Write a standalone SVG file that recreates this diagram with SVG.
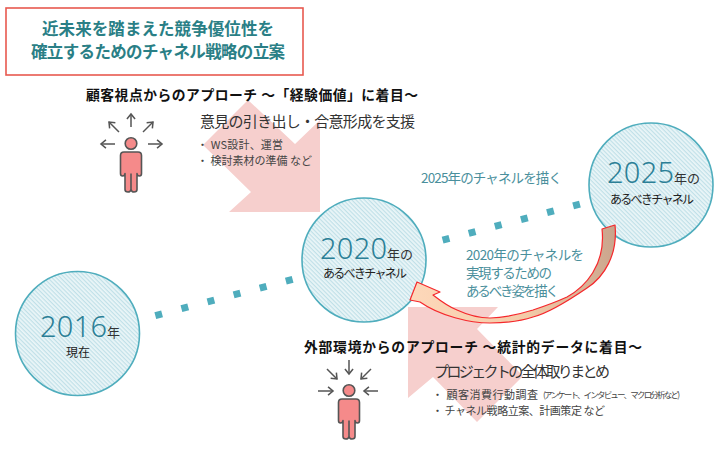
<svg xmlns="http://www.w3.org/2000/svg" xmlns:xlink="http://www.w3.org/1999/xlink" width="720" height="450" viewBox="0 0 720 450">
<style>
text{font-family:"Noto Sans CJK JP","Noto Sans",sans-serif}
.c{stroke:#4fadbd;stroke-width:1.6;fill:url(#hatch)}
.num{font-family:"Noto Sans","Noto Sans CJK JP",sans-serif;font-size:29px;fill:#2b7f96;font-weight:300}
.k{fill:#333;font-size:13px}
.kb{fill:#222;font-size:12px}
.h{fill:#111;font-size:13.8px;font-weight:700}
.s{fill:#333;font-size:15px}
.b{fill:#444;font-size:11px}
.t{fill:#4a8f9c;font-size:13.5px}
.tt{fill:#2a7f86;font-size:16.5px;font-weight:700}
.ar{fill:none;stroke:#555;stroke-width:1.5;marker-end:url(#ah)}
.big{fill:#f6cfcd}
</style>
<defs>
<pattern id="hatch" width="3" height="3" patternUnits="userSpaceOnUse" patternTransform="rotate(45)">
<rect width="3" height="3" fill="#ebf6f8"/><rect width="3" height="1.2" fill="#c0e0e8"/>
</pattern>
<marker id="ah" viewBox="0 0 10 10" refX="8.5" refY="5" markerWidth="9" markerHeight="9" markerUnits="userSpaceOnUse" orient="auto" overflow="visible">
<path d="M3 0.5L8.5 5L3 9.5" fill="none" stroke="#555" stroke-width="1.7"/>
</marker>
<linearGradient id="cg" gradientUnits="userSpaceOnUse" x1="410" y1="290" x2="616" y2="240">
<stop offset="0" stop-color="#fdd8ba"/><stop offset="0.5" stop-color="#f3cba8"/><stop offset="1" stop-color="#c9a48c"/>
</linearGradient>
<g id="man">
<circle cx="0" cy="0" r="5.8" fill="#f58a8a" stroke="#555" stroke-width="1.6"/>
<path d="M-7 8.5H7Q10.5 8.5 10.5 12V30Q10.5 32.5 8.5 32.5Q6 32.5 6 30V46Q6 48.5 3 48.5Q0.5 48.5 0 46Q-0.5 48.5 -3 48.5Q-6 48.5 -6 46V30Q-6 32.5 -8.5 32.5Q-10.5 32.5 -10.5 30V12Q-10.5 8.5 -7 8.5Z M0 30V46" fill="#f58a8a" stroke="#555" stroke-width="1.6" stroke-linejoin="round"/>
</g>
</defs>
<rect width="720" height="450" fill="#fff"/>
<g id="big-arrows">
<polygon class="big" points="248,100 295,144 320,120 320,212 229,212 251,192 203,145"/>
<polygon class="big" points="408,307 498,307 477,329 523,376 477,422 433,377 408,398"/>
</g>
<g id="connectors">
<line x1="155.3" y1="315.6" x2="292.7" y2="279.4" stroke="#4fadbd" stroke-width="7" stroke-dasharray="7 20"/>
<line x1="442.6" y1="240.2" x2="580" y2="204" stroke="#4fadbd" stroke-width="7" stroke-dasharray="7 20"/>
</g>
<g id="title">
<rect x="6" y="8" width="297" height="67" fill="#fff" stroke="#e8594f" stroke-width="1.6"/>
<text class="tt" x="42" y="35" textLength="232">近未来を踏まえた競争優位性を</text>
<text class="tt" x="31" y="58" textLength="254">確立するためのチャネル戦略の立案</text>
</g>
<g id="node-2016">
<circle class="c" cx="77.5" cy="333.5" r="62"/>
<text class="num" x="40" y="337" textLength="67">2016</text>
<text class="k" x="107" y="337">年</text>
<text class="kb" x="66" y="357">現在</text>
</g>
<g id="node-2020">
<circle class="c" cx="364" cy="260" r="62"/>
<text class="num" x="320" y="259" textLength="67">2020</text>
<text class="k" x="387" y="259">年の</text>
<text class="kb" x="323" y="278" textLength="84">あるべきチャネル</text>
</g>
<g id="node-2025">
<circle class="c" cx="651" cy="185" r="62"/>
<text class="num" x="607" y="183" textLength="67">2025</text>
<text class="k" x="674" y="183">年の</text>
<text class="kb" x="610" y="204" textLength="84">あるべきチャネル</text>
</g>
<g id="curved-arrow">
<path d="M615 225C618 255 604 277 587 288C565 303 545 314 533 317C518 322 505 323 490 323C470 323 440 316 420 302L410 300L417 282L440 292L433 295C442 302 449 307 457 310C470 316 480 318 490 318C505 318 520 314 533 310C545 306 556 302 567 297C585 287 606 265 602 229Z" fill="url(#cg)" stroke="#f5282c" stroke-width="1.2" stroke-linejoin="round"/>
</g>
<g id="label-2025"><text class="t" x="421" y="183" textLength="141">2025年のチャネルを描く</text></g>
<g id="label-2020">
<text class="t" x="466" y="260" textLength="118">2020年のチャネルを</text>
<text class="t" x="466" y="278" textLength="86">実現するための</text>
<text class="t" x="466" y="296" textLength="93">あるべき姿を描く</text>
</g>
<g id="approach-customer">
<text class="h" x="86" y="100" textLength="332">顧客視点からのアプローチ ～「経験価値」に着目～</text>
<use xlink:href="#man" href="#man" x="131" y="143.5"/>
<line class="ar" x1="131" y1="127" x2="131" y2="114"/>
<line class="ar" x1="119" y1="132" x2="109" y2="122"/>
<line class="ar" x1="143" y1="132" x2="153" y2="122"/>
<line class="ar" x1="115" y1="144" x2="101" y2="144"/>
<line class="ar" x1="148" y1="144" x2="162" y2="144"/>
<text class="s" x="200" y="127" textLength="215">意見の引き出し・合意形成を支援</text>
<text class="b" x="197" y="149" textLength="86">・ WS設計、運営</text>
<text class="b" x="197" y="165" textLength="115">・ 検討素材の準備 など</text>
</g>
<g id="approach-external">
<text class="h" x="304" y="352" textLength="338">外部環境からのアプローチ ～統計的データに着目～</text>
<use xlink:href="#man" href="#man" x="349" y="390.5"/>
<line class="ar" x1="349" y1="360" x2="349" y2="374"/>
<line class="ar" x1="327" y1="369" x2="337" y2="379"/>
<line class="ar" x1="371" y1="369" x2="361" y2="379"/>
<line class="ar" x1="318" y1="391" x2="333" y2="391"/>
<line class="ar" x1="378" y1="391" x2="364" y2="391"/>
<text class="s" x="434" y="377" textLength="176">プロジェクトの全体取りまとめ</text>
<text class="b" x="432" y="399" textLength="106">・ 顧客消費行動調査</text>
<text x="543" y="398" font-size="8.5" fill="#444" textLength="137">(アンケート、インタビュー、マクロ分析 など)</text>
<text class="b" x="432" y="415" textLength="173">・ チャネル戦略立案、計画策定 など</text>
</g>
</svg>
